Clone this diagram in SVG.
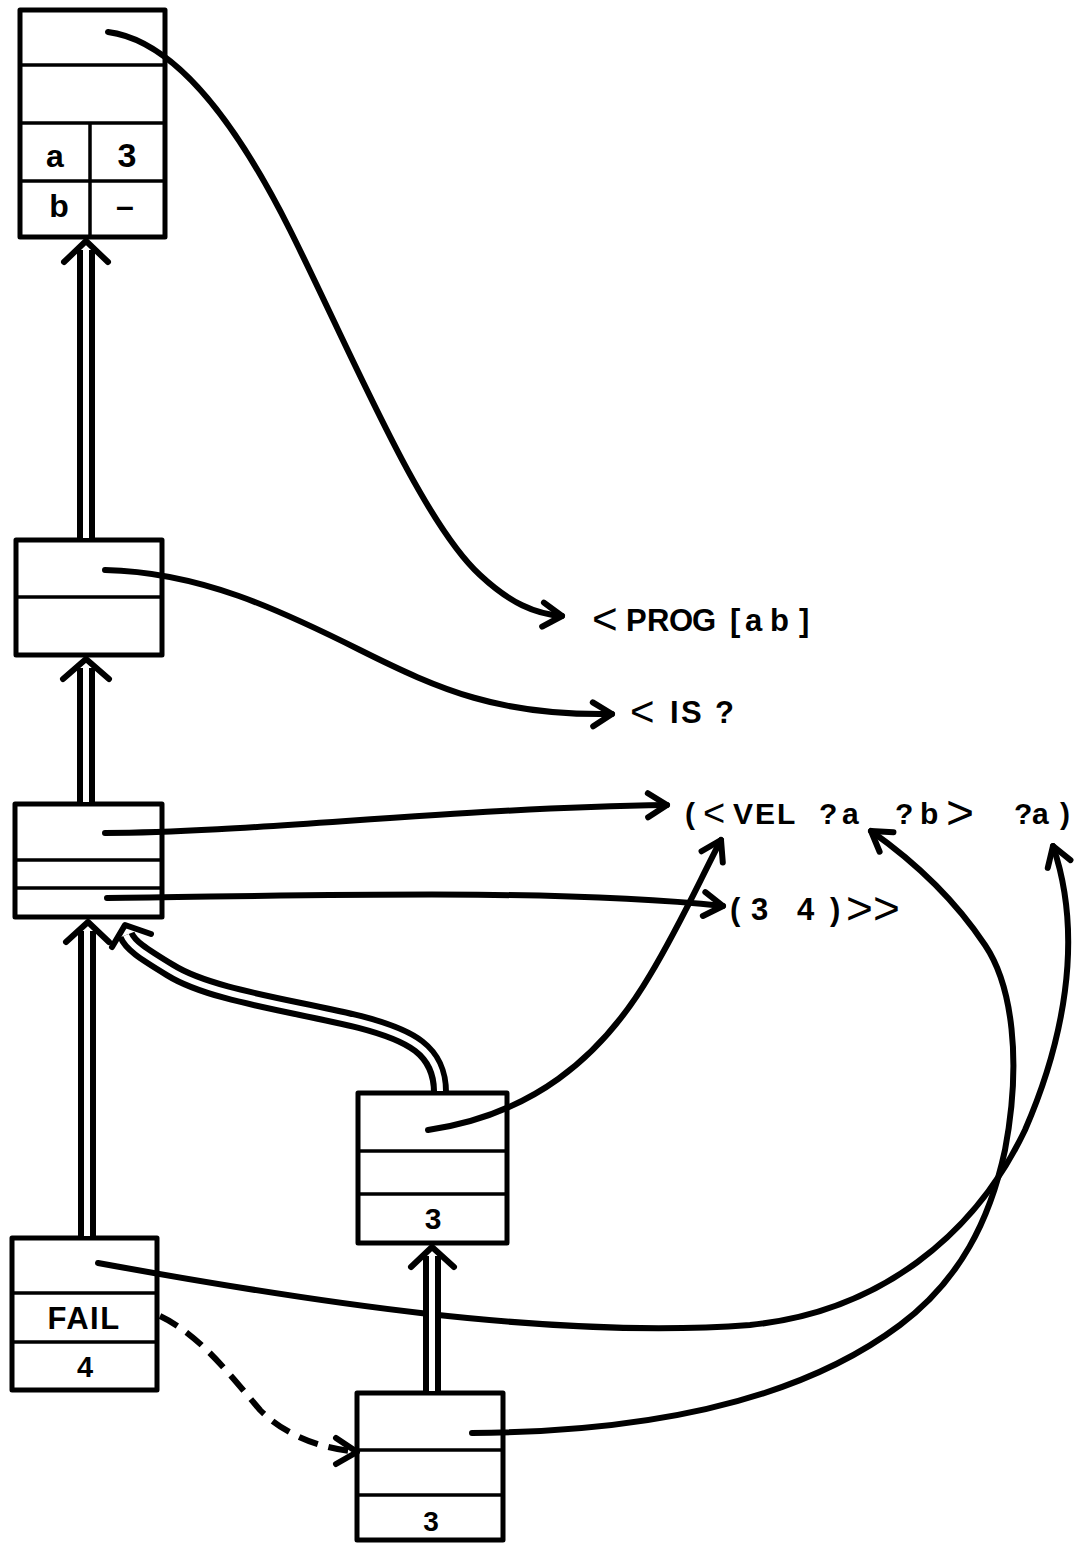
<svg xmlns="http://www.w3.org/2000/svg" width="1079" height="1543" viewBox="0 0 1079 1543">
  <defs>
    <style>
      .box { fill: #fff; stroke: #000; stroke-width: 5; stroke-linejoin: round; }
      .div { stroke: #000; stroke-width: 3.5; fill: none; }
      .ptr { fill: none; stroke: #000; stroke-width: 6; stroke-linecap: round; }
      .dash { stroke-dasharray: 20 11; stroke-linecap: butt; }
      .band { fill: none; stroke: #000; stroke-width: 18; }
      .gap { fill: none; stroke: #fff; stroke-width: 6; }
      .head { fill: none; stroke: #000; stroke-width: 6; stroke-linecap: round; stroke-linejoin: round; }
      .lbl { font-family: "Liberation Sans", Arial, sans-serif; font-weight: bold; fill: #000; }
      .ang { font-weight: normal; }
    </style>
    <marker id="ah" markerUnits="userSpaceOnUse" orient="auto" refX="0" refY="0" markerWidth="40" markerHeight="40" style="overflow:visible">
      <path class="head" d="M-19,-12 L0,0 L-19,12"/>
    </marker>
  </defs>

  <rect width="1079" height="1543" fill="#fff"/>

  <!-- frame with bindings a, b -->
  <g id="frame-top">
    <rect class="box" x="20" y="10" width="145" height="227"/>
    <line class="div" x1="20" y1="65" x2="165" y2="65"/>
    <line class="div" x1="20" y1="123" x2="165" y2="123"/>
    <line class="div" x1="20" y1="181" x2="165" y2="181"/>
    <line class="div" x1="90" y1="123" x2="90" y2="237"/>
    <text class="lbl" x="55" y="167" font-size="32" text-anchor="middle">a</text>
    <text class="lbl" x="127" y="167" font-size="34" text-anchor="middle">3</text>
    <text class="lbl" x="59" y="217" font-size="32" text-anchor="middle">b</text>
    <text class="lbl" x="125" y="217" font-size="32" text-anchor="middle">–</text>
  </g>

  <g id="frame-is">
    <rect class="box" x="16" y="540" width="146" height="115"/>
    <line class="div" x1="16" y1="597" x2="162" y2="597"/>
  </g>

  <g id="frame-pattern">
    <rect class="box" x="15" y="804" width="147" height="113"/>
    <line class="div" x1="15" y1="860" x2="162" y2="860"/>
    <line class="div" x1="15" y1="888" x2="162" y2="888"/>
  </g>

  <g id="frame-vel">
    <rect class="box" x="358" y="1093" width="149" height="150"/>
    <line class="div" x1="358" y1="1151" x2="507" y2="1151"/>
    <line class="div" x1="358" y1="1194" x2="507" y2="1194"/>
    <text class="lbl" x="433" y="1229" font-size="30" text-anchor="middle">3</text>
  </g>

  <g id="frame-fail">
    <rect class="box" x="12" y="1238" width="145" height="152"/>
    <line class="div" x1="12" y1="1293" x2="157" y2="1293"/>
    <line class="div" x1="12" y1="1342" x2="157" y2="1342"/>
    <text class="lbl" x="84" y="1329" font-size="31" letter-spacing="1.5" text-anchor="middle">FAIL</text>
    <text class="lbl" x="85" y="1377" font-size="29" text-anchor="middle">4</text>
  </g>

  <g id="frame-retry">
    <rect class="box" x="357" y="1393" width="146" height="147"/>
    <line class="div" x1="357" y1="1450" x2="503" y2="1450"/>
    <line class="div" x1="357" y1="1495" x2="503" y2="1495"/>
    <text class="lbl" x="431" y="1531" font-size="28" text-anchor="middle">3</text>
  </g>

  <!-- program text -->
  <g id="code">
    <text class="lbl" font-size="31" y="631"><tspan class="ang" x="592" y="634" font-size="44">&lt;</tspan><tspan x="626" y="631">P</tspan><tspan x="647">R</tspan><tspan x="669">O</tspan><tspan x="692">G</tspan><tspan x="730">[</tspan><tspan x="745">a</tspan><tspan x="770">b</tspan><tspan x="799">]</tspan></text>
    <text class="lbl" font-size="31" y="723"><tspan class="ang" x="630" y="726" font-size="42">&lt;</tspan><tspan x="670" y="723">I</tspan><tspan x="681">S</tspan><tspan x="715">?</tspan></text>
    <text class="lbl" font-size="30" y="824"><tspan x="685">(</tspan><tspan class="ang" x="703" y="826" font-size="38">&lt;</tspan><tspan x="733" y="824">V</tspan><tspan x="755">E</tspan><tspan x="777">L</tspan><tspan x="819">?</tspan><tspan x="842">a</tspan><tspan x="895">?</tspan><tspan x="920">b</tspan><tspan class="ang" x="946" y="829" font-size="48">&gt;</tspan><tspan x="1014" y="824">?</tspan><tspan x="1032">a</tspan><tspan x="1060">)</tspan></text>
    <text class="lbl" font-size="31" y="920"><tspan x="730">(</tspan><tspan x="751">3</tspan><tspan x="797">4</tspan><tspan x="830">)</tspan><tspan class="ang" x="846" y="924" font-size="46">&gt;</tspan><tspan class="ang" x="873" y="924" font-size="46">&gt;</tspan></text>
  </g>

  <g id="connectors">
    <!-- single pointers into the program text -->
    <path class="ptr" marker-end="url(#ah)" d="M108,32 C170,40 230,110 290,230 C350,350 420,520 480,575 C510,603 535,614 562,616"/>
    <path class="ptr" marker-end="url(#ah)" d="M105,570 C200,572 280,610 360,650 C440,690 500,716 612,714"/>
    <path class="ptr" marker-end="url(#ah)" d="M105,833 C250,833 450,808 667,805"/>
    <path class="ptr" marker-end="url(#ah)" d="M107,898 C300,896 550,888 723,906"/>
    <path class="ptr" marker-end="url(#ah)" d="M428,1130 C530,1115 600,1060 650,975 C680,925 700,880 721,840"/>
    <path class="ptr" marker-end="url(#ah)" d="M98,1263 C300,1300 550,1340 750,1325 C880,1312 975,1235 1025,1130 C1062,1045 1085,940 1053,846"/>
    <path class="ptr" marker-end="url(#ah)" d="M472,1433 C650,1432 800,1400 900,1325 C960,1280 990,1220 1005,1150 C1022,1060 1012,985 985,945 C955,900 915,862 871,831"/>

    <!-- failure link -->
    <path class="ptr dash" d="M160,1316 C200,1335 230,1375 260,1410 C285,1435 318,1447 350,1451"/>
    <path class="head" d="M336,1438 L357,1452 L336,1464"/>

    <!-- double links between frames -->
    <path class="band" d="M86,540 L86,250"/>
    <path class="gap" d="M86,538 L86,250"/>
    <path class="head" d="M64,262 L86,241 L108,262"/>

    <path class="band" d="M86,804 L86,668"/>
    <path class="gap" d="M86,802 L86,668"/>
    <path class="head" d="M63,679 L86,659 L109,679"/>

    <path class="band" d="M87,1238 L87,931"/>
    <path class="gap" d="M87,1236 L87,931"/>
    <path class="head" d="M66,942 L88,922 L109,942"/>

    <path class="band" d="M432,1393 L432,1256"/>
    <path class="gap" d="M432,1391 L432,1256"/>
    <path class="head" d="M411,1267 L432,1247 L454,1267"/>

    <path class="band" d="M440,1093 C440,1050 410,1035 360,1022 C290,1005 210,995 170,970 C142,953 130,945 126,935"/>
    <path class="gap" d="M440,1091 C440,1050 410,1035 360,1022 C290,1005 210,995 170,970 C142,953 130,945 126,935"/>
    <path class="head" d="M112,947 L125,925 L151,934"/>
  </g>
</svg>
